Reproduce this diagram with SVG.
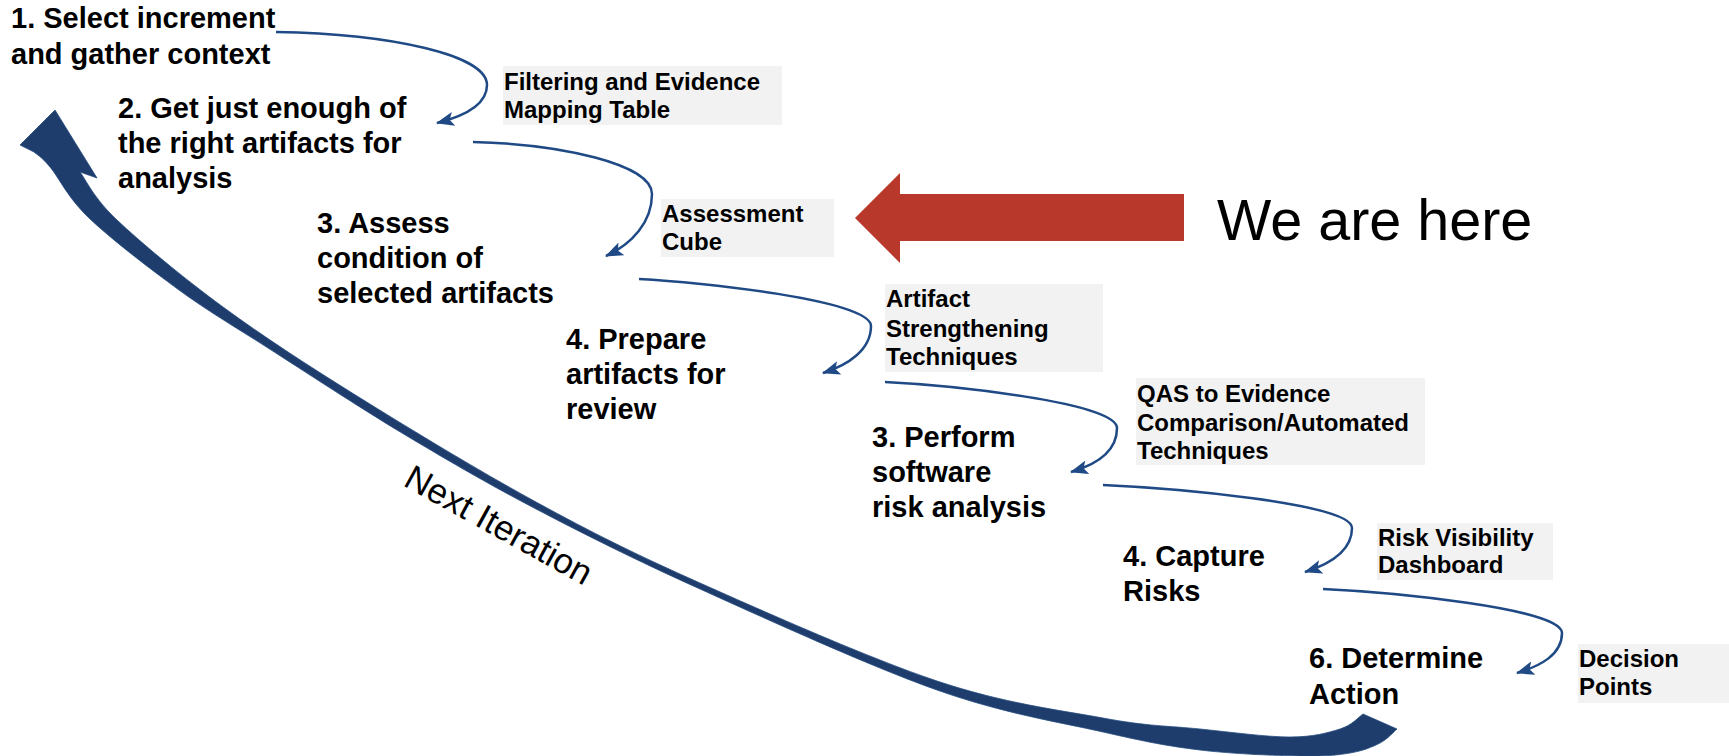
<svg xmlns="http://www.w3.org/2000/svg" width="1729" height="756" viewBox="0 0 1729 756">
<defs>
<style>
.t{font-family:"Liberation Sans",Arial,sans-serif;font-weight:bold;font-size:29px;fill:#000}
.s{font-family:"Liberation Sans",Arial,sans-serif;font-weight:bold;font-size:24px;fill:#000}
.box{fill:#F2F2F2}
.c{fill:none;stroke:#1F4A85;stroke-width:2.5;marker-end:url(#ah)}
</style>
<marker id="ah" markerUnits="userSpaceOnUse" viewBox="0 0 18 14" markerWidth="18" markerHeight="14" refX="17" refY="7" orient="auto">
<path d="M0,0 L18,7 L0,14 L4,7 Z" fill="#1F4A85"/>
</marker>
</defs>
<rect width="1729" height="756" fill="#fff"/>

<g id="loop">
<path fill="#1E3D6C" stroke="#274C80" stroke-width="0.8" d="M55,110 L97,178 L80,172 C86.2,180 93.2,197.5 117,220 C140.8,242.5 183,277.7 223,307 C263,336.3 304.8,363.5 357,396 C409.2,428.5 478.8,470.8 536,502 C593.2,533.2 633.2,553.2 700,583 C766.8,612.8 869.8,658.5 937,681 C1004.2,703.5 1059.2,710 1103,718 C1146.8,726.3 1168.8,725.8 1200,729 C1231.2,732.2 1266.7,737 1290,737 C1313.3,737 1327.8,732.8 1340,729 C1352.2,725.2 1359.2,716.5 1363,714 L1397,729 C1394.2,731.3 1387.8,739 1380,743 C1372.2,747 1363.3,750.8 1350,753 C1336.7,755.2 1325,756.5 1300,756 C1275,755.5 1232.8,754 1200,750 C1167.2,746 1146.8,742 1103,732 C1059.2,722 1004.2,713.8 937,690 C869.8,666.2 766.8,619.2 700,589 C633.2,558.8 585.7,535 536,509 C486.3,483 446.7,459.8 402,433 C357.3,406.2 305.2,371.8 268,348 C230.8,324.2 208.8,311.7 179,290 C149.2,268.3 110.5,238.5 89,218 C67.5,197.5 59.2,178 50,167 C40.8,156 36.7,154.5 34,152 L20,145 Z"/>
<text transform="translate(402,485) rotate(29)" font-family="Liberation Sans, Arial, sans-serif" font-size="35" fill="#000">Next Iteration</text>
</g>

<g id="connectors">
<path class="c" d="M276,32 C392,34 487,55 487,85 C487,104 465,116 437,123"/>
<path class="c" d="M473,142 C560,144 652,164 652,194 C652,222 632,244 606,256"/>
<path class="c" d="M639,279 C700,282 871,300 871,326 C871,350 848,365 823,373"/>
<path class="c" d="M885,382 C946,385 1117,402 1117,428 C1117,452 1095,465 1071,472"/>
<path class="c" d="M1103,485 C1170,488 1352,503 1352,528 C1352,551 1330,564 1305,572"/>
<path class="c" d="M1323,589 C1388,592 1562,608 1562,633 C1562,655 1540,666 1517,673"/>
</g>

<g id="n1"><text class="t" x="11" y="28">1. Select increment</text><text class="t" x="11" y="64">and gather context</text></g>
<g id="n2"><text class="t" x="118" y="118">2. Get just enough of</text><text class="t" x="118" y="153">the right artifacts for</text><text class="t" x="118" y="188">analysis</text></g>
<g id="n3"><text class="t" x="317" y="233">3. Assess</text><text class="t" x="317" y="268">condition of</text><text class="t" x="317" y="303">selected artifacts</text></g>
<g id="n4"><text class="t" x="566" y="349">4. Prepare</text><text class="t" x="566" y="384">artifacts for</text><text class="t" x="566" y="419">review</text></g>
<g id="n5"><text class="t" x="872" y="447">3. Perform</text><text class="t" x="872" y="482">software</text><text class="t" x="872" y="517">risk analysis</text></g>
<g id="n6"><text class="t" x="1123" y="566">4. Capture</text><text class="t" x="1123" y="601">Risks</text></g>
<g id="n7"><text class="t" x="1309" y="668">6. Determine</text><text class="t" x="1309" y="704">Action</text></g>

<g id="l1"><rect class="box" x="503" y="66" width="279" height="59"/><text class="s" x="504" y="90">Filtering and Evidence</text><text class="s" x="504" y="118">Mapping Table</text></g>
<g id="l2"><rect class="box" x="661" y="199" width="173" height="58"/><text class="s" x="662" y="222">Assessment</text><text class="s" x="662" y="250">Cube</text></g>
<g id="l3"><rect class="box" x="885" y="284" width="218" height="88"/><text class="s" x="886" y="307">Artifact</text><text class="s" x="886" y="337">Strengthening</text><text class="s" x="886" y="365">Techniques</text></g>
<g id="l4"><rect class="box" x="1136" y="378" width="289" height="87"/><text class="s" x="1137" y="402">QAS to Evidence</text><text class="s" x="1137" y="431">Comparison/Automated</text><text class="s" x="1137" y="459">Techniques</text></g>
<g id="l5"><rect class="box" x="1377" y="523" width="176" height="57"/><text class="s" x="1378" y="546">Risk Visibility</text><text class="s" x="1378" y="573">Dashboard</text></g>
<g id="l6"><rect class="box" x="1578" y="644" width="151" height="59"/><text class="s" x="1579" y="667">Decision</text><text class="s" x="1579" y="695">Points</text></g>

<g id="here">
<polygon fill="#B8382C" points="855,218 900,173 900,194 1184,194 1184,241 900,241 900,263"/>
<text x="1217" y="240" font-family="Liberation Sans, Arial, sans-serif" font-size="57.5" fill="#000">We are here</text>
</g>
</svg>
